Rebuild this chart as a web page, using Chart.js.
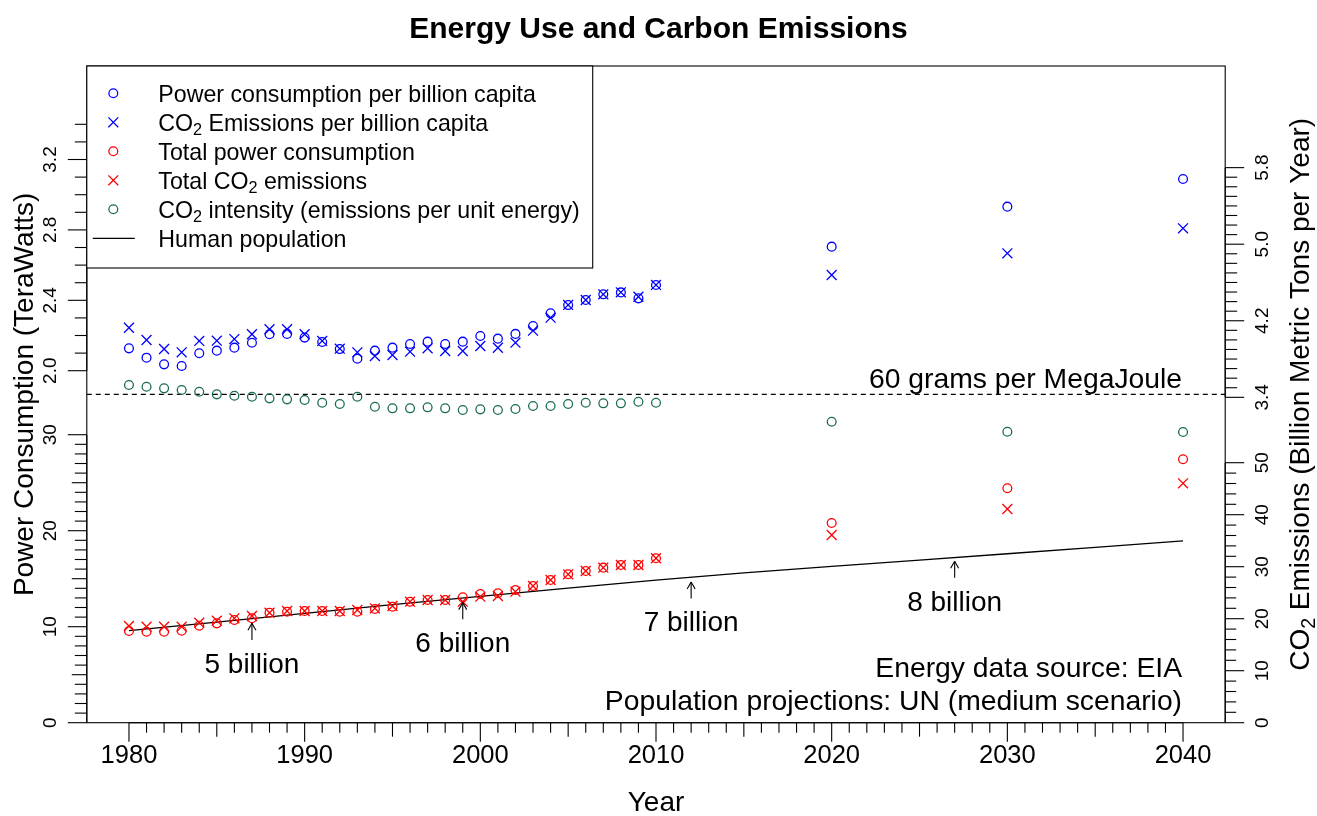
<!DOCTYPE html>
<html>
<head>
<meta charset="utf-8">
<title>Energy Use and Carbon Emissions</title>
<script src="https://cdn.jsdelivr.net/npm/chart.js@4.4.1/dist/chart.umd.min.js"></script>
<style>
html,body{margin:0;padding:0;background:#ffffff;}
#wrap{position:relative;width:1317px;height:816px;}
canvas{display:block;}
</style>
</head>
<body>
<div id="wrap"><canvas id="chart" width="1317" height="816"></canvas></div>
<script>
// ---------------- data ----------------
const years = [1980,1981,1982,1983,1984,1985,1986,1987,1988,1989,
               1990,1991,1992,1993,1994,1995,1996,1997,1998,1999,
               2000,2001,2002,2003,2004,2005,2006,2007,2008,2009,2010,
               2020,2030,2040];

// TeraWatts per billion people
const powerPerCapita = [2.127,2.074,2.036,2.027,2.099,2.114,2.131,2.159,2.207,2.209,
                        2.188,2.163,2.123,2.068,2.114,2.131,2.152,2.165,2.152,2.165,
                        2.197,2.182,2.209,2.254,2.326,2.373,2.402,2.434,2.445,2.411,2.487,
                        2.705,2.932,3.089];

// billion metric tons CO2 per billion people
const co2PerCapita = [4.127,3.999,3.905,3.870,3.989,3.992,4.009,4.059,4.111,4.111,
                      4.059,3.989,3.908,3.870,3.832,3.842,3.877,3.912,3.884,3.884,
                      3.936,3.918,3.971,4.096,4.232,4.365,4.417,4.476,4.497,4.451,4.574,
                      4.678,4.905,5.166];

// TeraWatts
const totalPower = [9.55,9.48,9.48,9.58,10.10,10.35,10.70,10.88,11.46,11.56,
                    11.64,11.64,11.56,11.56,11.84,12.08,12.60,12.78,12.78,13.06,
                    13.41,13.48,13.82,14.24,14.86,15.46,15.80,16.15,16.43,16.43,17.13,
                    20.80,24.42,27.44];

// billion metric tons CO2 per year
const totalCO2 = [18.60,18.46,18.46,18.46,19.23,19.62,20.08,20.52,21.15,21.48,
                  21.48,21.48,21.48,21.67,22.00,22.44,23.27,23.60,23.60,23.27,
                  24.23,24.37,25.19,26.29,27.44,28.54,29.17,29.81,30.33,30.33,31.62,
                  36.10,41.10,46.04];

// grams CO2 per MegaJoule
const co2Intensity = [61.70,61.39,61.10,60.79,60.48,60.00,59.75,59.57,59.27,59.09,
                      58.96,58.47,58.23,59.57,57.74,57.45,57.45,57.63,57.45,57.14,
                      57.26,57.14,57.32,57.87,57.87,58.23,58.47,58.36,58.36,58.65,58.47,
                      55.00,53.17,53.12];

// human population (billions)
const popYears = [1980,1985,1990,1995,2000,2005,2010,2015,2020,2025,2030,2035,2040];
const population = [4.45,4.86,5.28,5.70,6.10,6.50,6.89,7.24,7.55,7.85,8.16,8.47,8.78];

// population milestones
const milestoneYears = [1987,1999,2012,2027];
const milestoneValues = [5,6,7,8];
const milestoneLabels = ['5 billion','6 billion','7 billion','8 billion'];

// reference intensity
const refIntensity = 60;
const refLabel = '60 grams per MegaJoule';

// tick labels
const xTickValues = [1980,1990,2000,2010,2020,2030,2040];
const leftLowerTicks = [0,10,20,30];
const leftUpperTicks = [2.0,2.4,2.8,3.2];
const rightLowerTicks = [0,10,20,30,40,50];
const rightUpperTicks = [3.4,4.2,5.0,5.8];

const notes = ['Energy data source: EIA','Population projections: UN (medium scenario)'];

// axis ranges
const xMin = 1977.6, xMax = 2042.4;
const powRange = [0, 68.41];
const powCapRange = [0, 3.7313];
const co2Range = [0, 126.29];
const co2CapRange = [0, 6.862];
const intRange = [0, 120];
const popRange = [0, 31.72];

// ---------------- styling helpers ----------------
const FONT = "'Liberation Sans', Arial, Helvetica, sans-serif";
const BLUE = '#0000ff', RED = '#ff0000', GREEN = '#1a6b55';
function fontStr(size, weight) { return (weight || 'normal') + ' ' + size + 'px ' + FONT; }
function segs(text) {
  const out = []; let cur = '';
  for (const ch of text) {
    if (ch === '\u2082') { if (cur) out.push({t: cur, sub: false}); out.push({t: '2', sub: true}); cur = ''; }
    else cur += ch;
  }
  if (cur) out.push({t: cur, sub: false});
  return out;
}
function richWidth(ctx, text, size) {
  let w = 0;
  for (const s of segs(text)) { ctx.font = fontStr(s.sub ? size * 0.7 : size); w += ctx.measureText(s.t).width; }
  return w;
}
function drawRich(ctx, text, x, y, size, align) {
  const w = richWidth(ctx, text, size);
  let cx = align === 'right' ? x - w : (align === 'center' ? x - w / 2 : x);
  ctx.textAlign = 'left'; ctx.textBaseline = 'alphabetic';
  for (const s of segs(text)) {
    const sz = s.sub ? size * 0.7 : size;
    ctx.font = fontStr(sz);
    ctx.fillText(s.t, cx, y + (s.sub ? size * 0.2 : 0));
    cx += ctx.measureText(s.t).width;
  }
  return w;
}
function pts(arr) { return years.map((x, i) => ({x: x, y: arr[i]})); }

// ---------------- custom R-style drawing ----------------
const rPlot = {
  id: 'rPlot',
  afterDatasetsDraw(chart) {
    const ctx = chart.ctx, a = chart.chartArea, s = chart.scales;
    ctx.save();
    ctx.strokeStyle = '#000'; ctx.fillStyle = '#000'; ctx.lineWidth = 1.1;
    ctx.setLineDash([]);
    // plot box
    ctx.strokeRect(a.left, a.top, a.right - a.left, a.bottom - a.top);

    const line = (x1, y1, x2, y2) => { ctx.beginPath(); ctx.moveTo(x1, y1); ctx.lineTo(x2, y2); ctx.stroke(); };
    const vLabel = (txt, x, y, size) => {
      ctx.save(); ctx.translate(x, y); ctx.rotate(-Math.PI / 2);
      ctx.font = fontStr(size); ctx.textAlign = 'center'; ctx.textBaseline = 'alphabetic';
      ctx.fillText(txt, 0, 0); ctx.restore();
    };

    // left lower axis (total power)
    const yP = s.yPow;
    line(a.left, yP.getPixelForValue(0), a.left, yP.getPixelForValue(30));
    for (let i = 0; i <= 30; i++) {
      const len = i % 10 === 0 ? 19 : (i % 5 === 0 ? 15 : 12);
      const y = yP.getPixelForValue(i);
      line(a.left, y, a.left - len, y);
    }
    leftLowerTicks.forEach(v => vLabel(String(v), a.left - 31.3, yP.getPixelForValue(v), 19));

    // left upper axis (power per capita)
    const yPC = s.yPowCap;
    line(a.left, yPC.getPixelForValue(2.0), a.left, yPC.getPixelForValue(3.4));
    for (let k = 20; k <= 34; k++) {
      const len = k % 4 === 0 ? 19 : 12;
      const y = yPC.getPixelForValue(k / 10);
      line(a.left, y, a.left - len, y);
    }
    leftUpperTicks.forEach(v => vLabel(v.toFixed(1), a.left - 31.3, yPC.getPixelForValue(v), 19));

    // right lower axis (total CO2)
    const yC = s.yCO2;
    line(a.right, yC.getPixelForValue(0), a.right, yC.getPixelForValue(50));
    for (let i = 0; i <= 50; i += 2) {
      const len = i % 10 === 0 ? 19 : 11;
      const y = yC.getPixelForValue(i);
      line(a.right, y, a.right + len, y);
    }
    rightLowerTicks.forEach(v => vLabel(String(v), a.right + 43, yC.getPixelForValue(v), 19));

    // right upper axis (CO2 per capita)
    const yCC = s.yCO2Cap;
    line(a.right, yCC.getPixelForValue(3.4), a.right, yCC.getPixelForValue(5.8));
    for (let k = 34; k <= 58; k++) {
      const len = (k - 34) % 8 === 0 ? 19 : 12;
      const y = yCC.getPixelForValue(k / 10);
      line(a.right, y, a.right + len, y);
    }
    rightUpperTicks.forEach(v => vLabel(v.toFixed(1), a.right + 43, yCC.getPixelForValue(v), 19));

    // right axis title (reads bottom to top, with subscript)
    ctx.save();
    ctx.translate(1309, (a.top + a.bottom) / 2); ctx.rotate(-Math.PI / 2);
    drawRich(ctx, 'CO\u2082 Emissions (Billion Metric Tons per Year)', 0, 0, 28, 'center');
    ctx.restore();

    // x axis ticks
    const xs = s.x;
    line(xs.getPixelForValue(1980), a.bottom, xs.getPixelForValue(2040), a.bottom);
    for (let yr = 1980; yr <= 2040; yr++) {
      const len = yr % 10 === 0 ? 19 : (yr % 5 === 0 ? 14 : 10);
      const x = xs.getPixelForValue(yr);
      line(x, a.bottom, x, a.bottom + len);
    }

    // reference label
    ctx.fillStyle = '#000';
    drawRich(ctx, refLabel, xs.getPixelForValue(2040) - 1, s.yInt.getPixelForValue(refIntensity) - 6, 28.3, 'right');

    // population milestones (arrows + labels)
    const yPop = s.yPop;
    ctx.lineWidth = 1.1;
    milestoneYears.forEach((yr, i) => {
      const x = xs.getPixelForValue(yr);
      const y1 = yPop.getPixelForValue(milestoneValues[i] - 1.0);
      const y2 = yPop.getPixelForValue(milestoneValues[i] - 0.2);
      line(x, y1, x, y2);
      line(x, y2, x - 4, y2 + 7);
      line(x, y2, x + 4, y2 + 7);
      const yl = yPop.getPixelForValue(milestoneValues[i] - 2.1);
      drawRich(ctx, milestoneLabels[i], x, yl + 10, 28, 'center');
    });

    // source notes
    drawRich(ctx, notes[0], xs.getPixelForValue(2040) - 1, yP.getPixelForValue(5.8) + 10, 28.3, 'right');
    drawRich(ctx, notes[1], xs.getPixelForValue(2040) - 1, yP.getPixelForValue(2.37) + 10, 28.3, 'right');

    // legend
    const items = chart.data.datasets.filter(d => d.inLegend);
    const lsize = 23.2;
    const textLeft = a.left + 71.5;
    let maxW = 0;
    items.forEach(d => { maxW = Math.max(maxW, richWidth(ctx, d.label, lsize)); });
    const boxW = textLeft + maxW + 13 - a.left;
    const boxH = 27.3 + 29 * (items.length - 1) + 29.7;
    ctx.fillStyle = '#fff';
    ctx.fillRect(a.left, a.top, boxW, boxH);
    ctx.strokeStyle = '#000'; ctx.lineWidth = 1.1;
    ctx.strokeRect(a.left, a.top, boxW, boxH);
    items.forEach((d, i) => {
      const cy = a.top + 27.3 + 29 * i;
      const cx = a.left + 26.5;
      ctx.strokeStyle = d.borderColor; ctx.lineWidth = d.borderWidth || 1.3;
      if (d.pointStyle === 'circle') {
        ctx.beginPath(); ctx.arc(cx, cy, d.pointRadius, 0, Math.PI * 2); ctx.stroke();
      } else if (d.pointStyle === 'crossRot') {
        const h = d.pointRadius * Math.SQRT1_2;
        line(cx - h, cy - h, cx + h, cy + h); line(cx - h, cy + h, cx + h, cy - h);
      } else {
        line(a.left + 6, cy, a.left + 48, cy);
      }
      ctx.fillStyle = '#000';
      drawRich(ctx, d.label, textLeft, cy + 8.3, lsize, 'left');
    });
    ctx.restore();
  }
};

// ---------------- chart ----------------
const ctx = document.getElementById('chart').getContext('2d');
new Chart(ctx, {
  type: 'scatter',
  data: {
    datasets: [
      { label: 'Power consumption per billion capita', inLegend: true, data: pts(powerPerCapita), yAxisID: 'yPowCap',
        pointStyle: 'circle', pointRadius: 4.4, borderColor: BLUE, backgroundColor: 'rgba(0,0,0,0)', borderWidth: 1.3 },
      { label: 'CO\u2082 Emissions per billion capita', inLegend: true, data: pts(co2PerCapita), yAxisID: 'yCO2Cap',
        pointStyle: 'crossRot', pointRadius: 7, borderColor: BLUE, backgroundColor: 'rgba(0,0,0,0)', borderWidth: 1.3 },
      { label: 'Total power consumption', inLegend: true, data: pts(totalPower), yAxisID: 'yPow',
        pointStyle: 'circle', pointRadius: 4.4, borderColor: RED, backgroundColor: 'rgba(0,0,0,0)', borderWidth: 1.3 },
      { label: 'Total CO\u2082 emissions', inLegend: true, data: pts(totalCO2), yAxisID: 'yCO2',
        pointStyle: 'crossRot', pointRadius: 7, borderColor: RED, backgroundColor: 'rgba(0,0,0,0)', borderWidth: 1.3 },
      { label: 'CO\u2082 intensity (emissions per unit energy)', inLegend: true, data: pts(co2Intensity), yAxisID: 'yInt',
        pointStyle: 'circle', pointRadius: 4.4, borderColor: GREEN, backgroundColor: 'rgba(0,0,0,0)', borderWidth: 1.3 },
      { label: 'Human population', inLegend: true, data: popYears.map((x, i) => ({x: x, y: population[i]})), yAxisID: 'yPop',
        showLine: true, pointStyle: 'line', pointRadius: 0, borderColor: '#000', backgroundColor: '#000', borderWidth: 1.3 },
      { label: refLabel, inLegend: false, data: [{x: xMin, y: refIntensity}, {x: xMax, y: refIntensity}], yAxisID: 'yInt',
        showLine: true, pointRadius: 0, borderColor: '#000', borderWidth: 1.1, borderDash: [5, 4] }
    ]
  },
  options: {
    responsive: false,
    devicePixelRatio: 1,
    animation: false,
    events: [],
    layout: { padding: 0 },
    plugins: {
      legend: { display: false },
      tooltip: { enabled: false },
      title: {
        display: true, text: 'Energy Use and Carbon Emissions', color: '#000',
        font: { family: FONT, size: 30, weight: 'bold', lineHeight: 1.2 },
        padding: { top: 12, bottom: 18 }
      }
    },
    scales: {
      x: {
        type: 'linear', position: 'bottom', min: xMin, max: xMax,
        afterBuildTicks: sc => { sc.ticks = xTickValues.map(v => ({value: v})); },
        afterFit: sc => { sc.height = 93.3; },
        grid: { display: false, drawTicks: false },
        border: { display: false },
        ticks: { color: '#000', font: { family: FONT, size: 25.5 }, padding: 18, maxRotation: 0, autoSkip: false,
                 callback: v => String(v) },
        title: { display: true, text: 'Year', color: '#000', font: { family: FONT, size: 28, lineHeight: 0.9 },
                 padding: { top: 0, bottom: 0 } }
      },
      yPow: {
        type: 'linear', position: 'left', min: powRange[0], max: powRange[1],
        afterFit: sc => { sc.width = 86.8; },
        grid: { display: false, drawTicks: false },
        border: { display: false },
        ticks: { display: false },
        title: { display: true, text: 'Power Consumption (TeraWatts)', color: '#000',
                 font: { family: FONT, size: 28, lineHeight: 1 }, padding: { top: 11, bottom: 0 } }
      },
      yCO2: {
        type: 'linear', position: 'right', min: co2Range[0], max: co2Range[1],
        afterFit: sc => { sc.width = 91.8; },
        grid: { display: false, drawTicks: false },
        border: { display: false },
        ticks: { display: false },
        title: { display: false }
      },
      yPowCap: { type: 'linear', display: false, min: powCapRange[0], max: powCapRange[1] },
      yCO2Cap: { type: 'linear', display: false, min: co2CapRange[0], max: co2CapRange[1] },
      yInt: { type: 'linear', display: false, min: intRange[0], max: intRange[1] },
      yPop: { type: 'linear', display: false, min: popRange[0], max: popRange[1] }
    }
  },
  plugins: [rPlot]
});
</script>
</body>
</html>
